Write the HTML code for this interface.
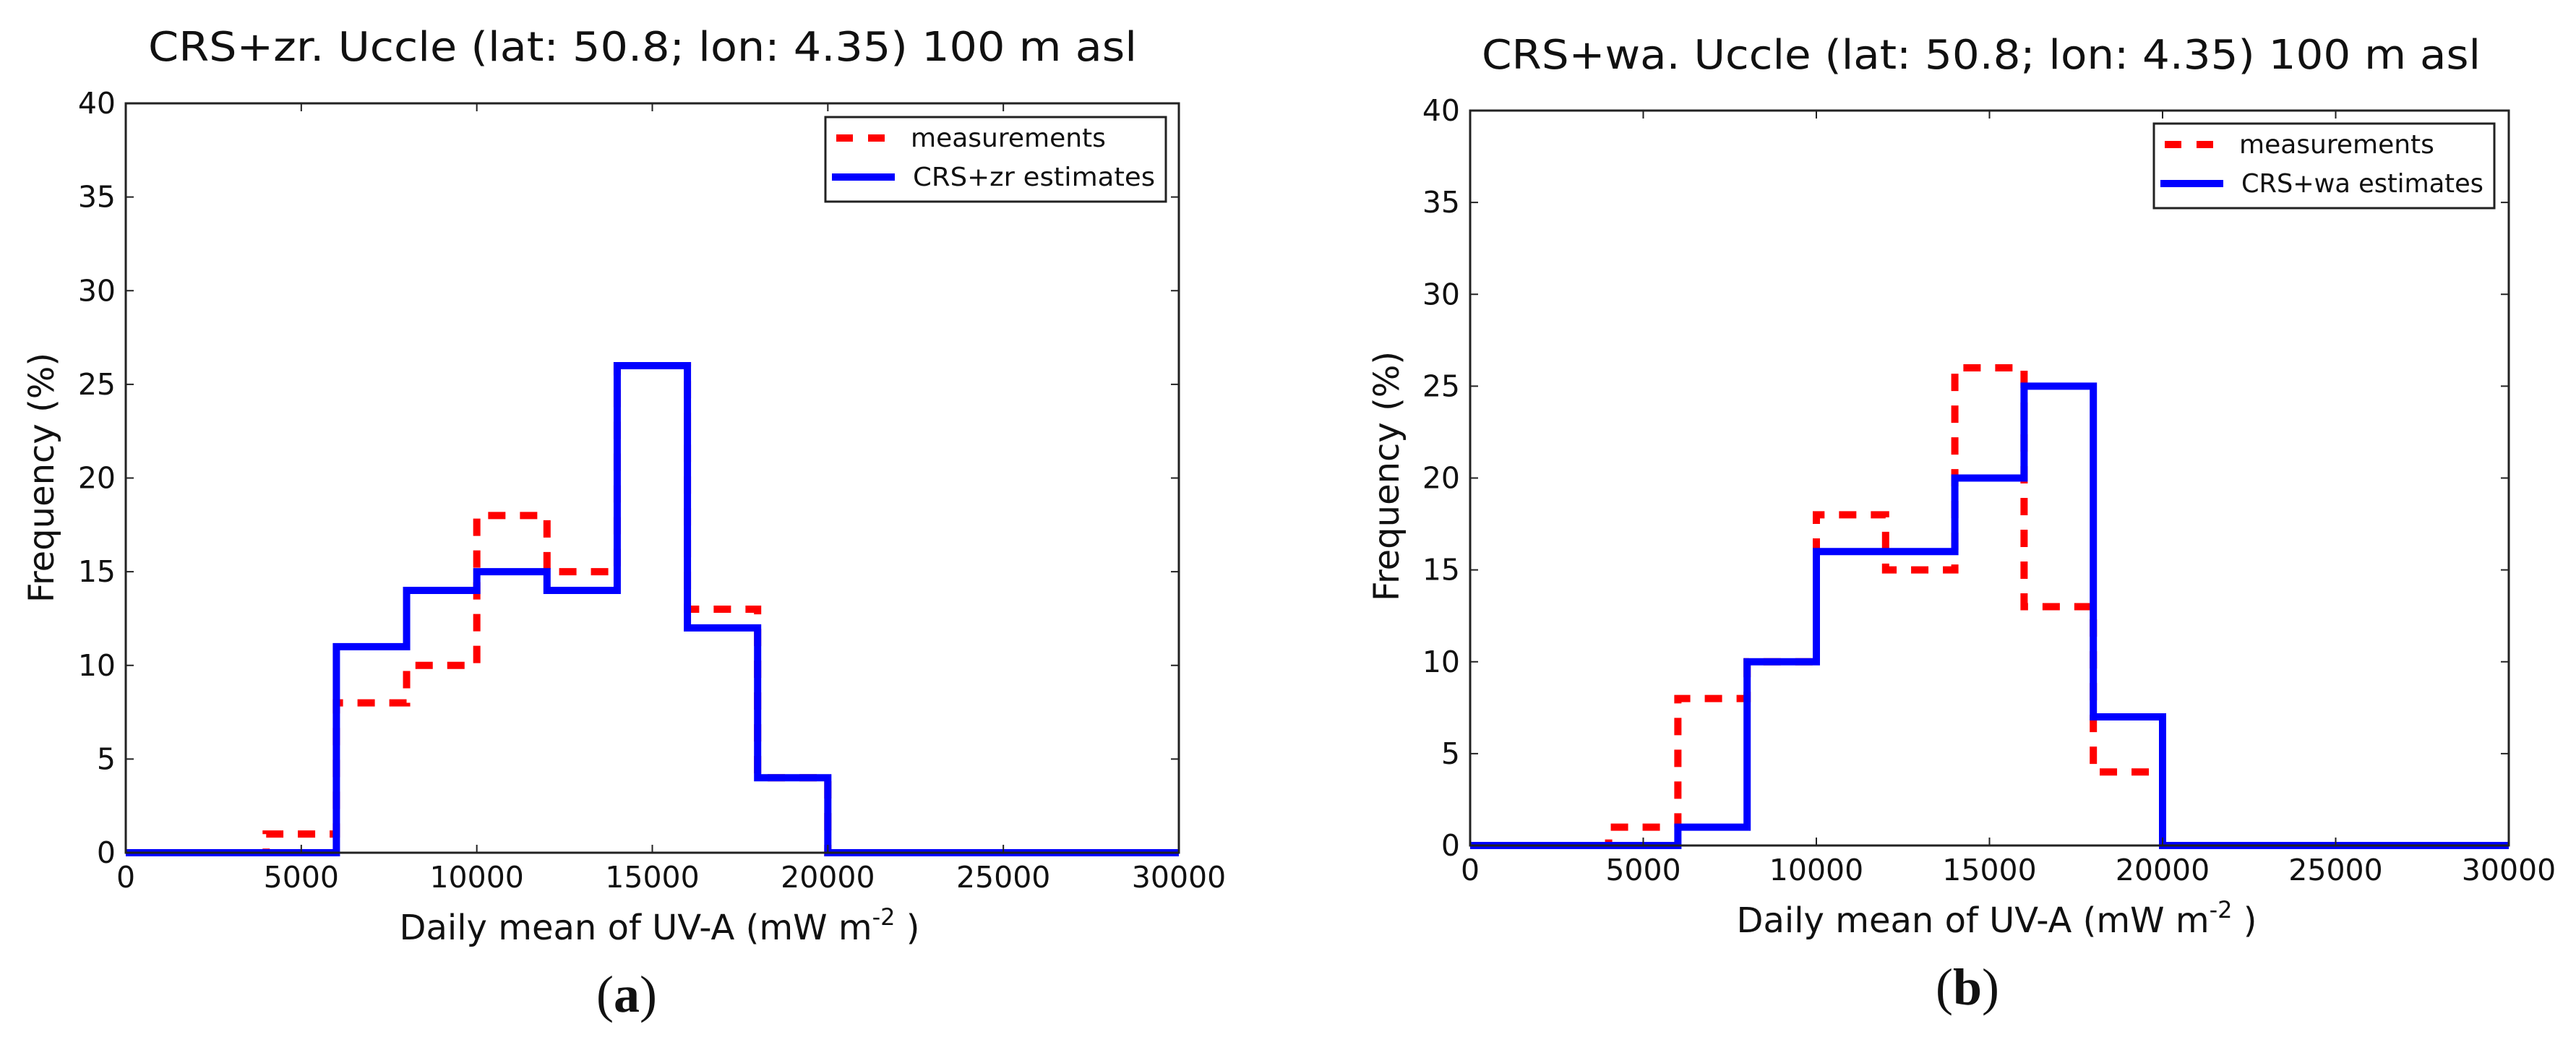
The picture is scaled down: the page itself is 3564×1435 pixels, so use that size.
<!DOCTYPE html>
<html><head><meta charset="utf-8">
<style>
html,body{margin:0;padding:0;background:#fff;}
svg{display:block;}
text{font-family:"DejaVu Sans","Liberation Sans",sans-serif;fill:#111;}
</style></head>
<body>
<svg id="fig" width="3564" height="1435" viewBox="0 0 3564 1435" xmlns="http://www.w3.org/2000/svg"></svg>
<script>
const binEdges = [0,2000,4000,6000,8000,10000,12000,14000,16000,18000,20000,22000,24000,26000,28000,30000];
const xTicks = [0,5000,10000,15000,20000,25000,30000];
const yTicks = [0,5,10,15,20,25,30,35,40];
const measA = [0,0,1,8,10,18,15,26,13,4,0,0,0,0,0];
const estA  = [0,0,0,11,14,15,14,26,12,4,0,0,0,0,0];
const measB = [0,0,1,8,10,18,15,26,13,4,0,0,0,0,0];
const estB  = [0,0,0,1,10,16,16,20,25,7,0,0,0,0,0];

const NS="http://www.w3.org/2000/svg";
const svg=document.getElementById('fig');
function mk(tag,attrs,parent){const e=document.createElementNS(NS,tag);for(const k in attrs)e.setAttribute(k,attrs[k]);(parent||svg).appendChild(e);return e;}

function panel(cfg){
  const g=mk('g',{});
  
  
  const L=cfg.L,R=cfg.R,T=cfg.T,B=cfg.B;
  const xs=v=>L+(v-0)/30000*(R-L);
  const ys=v=>B-(v/40)*(B-T);
  // title
  const t=mk('text',{x:(cfg.titleX0+cfg.titleX1)/2,y:cfg.titleY,'font-size':56,'text-anchor':'middle',textLength:cfg.titleX1-cfg.titleX0,lengthAdjust:'spacingAndGlyphs'},g);
  t.textContent=cfg.title;
  
  
  // series
  function step(vals,color,dash,name){
    let d='M'+xs(binEdges[0])+','+ys(0);
    for(let i=0;i<vals.length;i++){d+=' V'+ys(vals[i])+' H'+xs(binEdges[i+1]);}
    d+=' V'+ys(0);
    const p=mk('path',{d:d,fill:'none',stroke:color,'stroke-width':10,'stroke-linejoin':'miter'},g);
    if(dash)p.setAttribute('stroke-dasharray',dash);
    
    
  }
  step(cfg.meas,'#ff0000','24 20','measurements-series');
  step(cfg.est,'#0000ff',null,'estimates-series');
  // frame
  const f=mk('rect',{x:L,y:T,width:R-L,height:B-T,fill:'none',stroke:'#222','stroke-width':3},g);
  
  
  // ticks
  xTicks.forEach(v=>{
    mk('line',{x1:xs(v),x2:xs(v),y1:B,y2:B-11,stroke:'#222','stroke-width':2},g);
    mk('line',{x1:xs(v),x2:xs(v),y1:T,y2:T+11,stroke:'#222','stroke-width':2},g);
    const tl=mk('text',{x:xs(v),y:cfg.xTickY,'font-size':41,'text-anchor':'middle'},g);
    tl.textContent=String(v);
    
    
  });
  yTicks.forEach(v=>{
    mk('line',{x1:L,x2:L+11,y1:ys(v),y2:ys(v),stroke:'#222','stroke-width':2},g);
    mk('line',{x1:R,x2:R-11,y1:ys(v),y2:ys(v),stroke:'#222','stroke-width':2},g);
    const tl=mk('text',{x:L-14,y:ys(v)+14,'font-size':41,'text-anchor':'end'},g);
    tl.textContent=String(v);
    
    
  });
  // axis labels
  const xl=mk('text',{x:(L+R)/2+10,y:cfg.xLabelY,'font-size':48,'text-anchor':'middle'},g);
  xl.innerHTML='Daily mean of UV-A (mW m<tspan dy="-20" font-size="32">-2</tspan><tspan dy="20"> )</tspan>';
  
  
  const yl=mk('text',{x:0,y:0,'font-size':48,'text-anchor':'middle',transform:'translate('+(cfg.yLabelX+17)+','+cfg.yLabelY+') rotate(-90)'},g);
  yl.textContent='Frequency (%)';
  
  
  // legend
  const lg=mk('g',{},g);
  
  
  mk('rect',{x:cfg.legL,y:cfg.legT,width:471,height:117,fill:'#fff',stroke:'#222','stroke-width':3},lg);
  const y1=cfg.legT+29,y2=cfg.legT+83;
  mk('line',{x1:cfg.legL+15,x2:cfg.legL+96,y1:y1,y2:y1,stroke:'#ff0000','stroke-width':10,'stroke-dasharray':'23 21'},lg);
  const l1=mk('text',{x:cfg.legL+118,y:y1+12,'font-size':36},lg);
  l1.textContent='measurements';
  
  
  mk('line',{x1:cfg.legL+9,x2:cfg.legL+96,y1:y2,y2:y2,stroke:'#0000ff','stroke-width':10},lg);
  const l2=mk('text',{x:cfg.legL+121,y:y2+12,'font-size':36,textLength:335,lengthAdjust:'spacingAndGlyphs'},lg);
  l2.textContent=cfg.estName;
  
  
  // caption
  const c=mk('text',{x:cfg.capX,y:cfg.capY,'font-size':72,'text-anchor':'middle','font-family':'Liberation Serif, serif'},g);
  c.innerHTML='(<tspan font-weight="bold">'+cfg.cap+'</tspan>)';
  c.style.fontFamily='"Liberation Serif",serif';
  
  
}

panel({id:'a',L:174,R:1631,T:143,B:1180,title:'CRS+zr. Uccle (lat: 50.8; lon: 4.35) 100 m asl',titleX0:205,titleX1:1573,titleY:84,
  meas:measA,est:estA,xTickY:1228,xLabelY:1300,yLabelX:57,yLabelY:661,legL:1142,legT:162,estName:'CRS+zr estimates',capX:867,capY:1400,cap:'a'});
panel({id:'b',L:2034,R:3471,T:153,B:1170,title:'CRS+wa. Uccle (lat: 50.8; lon: 4.35) 100 m asl',titleX0:2050,titleX1:3432,titleY:95,
  meas:measB,est:estB,xTickY:1218,xLabelY:1290,yLabelX:1918,yLabelY:659,legL:2980,legT:171,estName:'CRS+wa estimates',capX:2722,capY:1390,cap:'b'});
</script>
</body></html>
